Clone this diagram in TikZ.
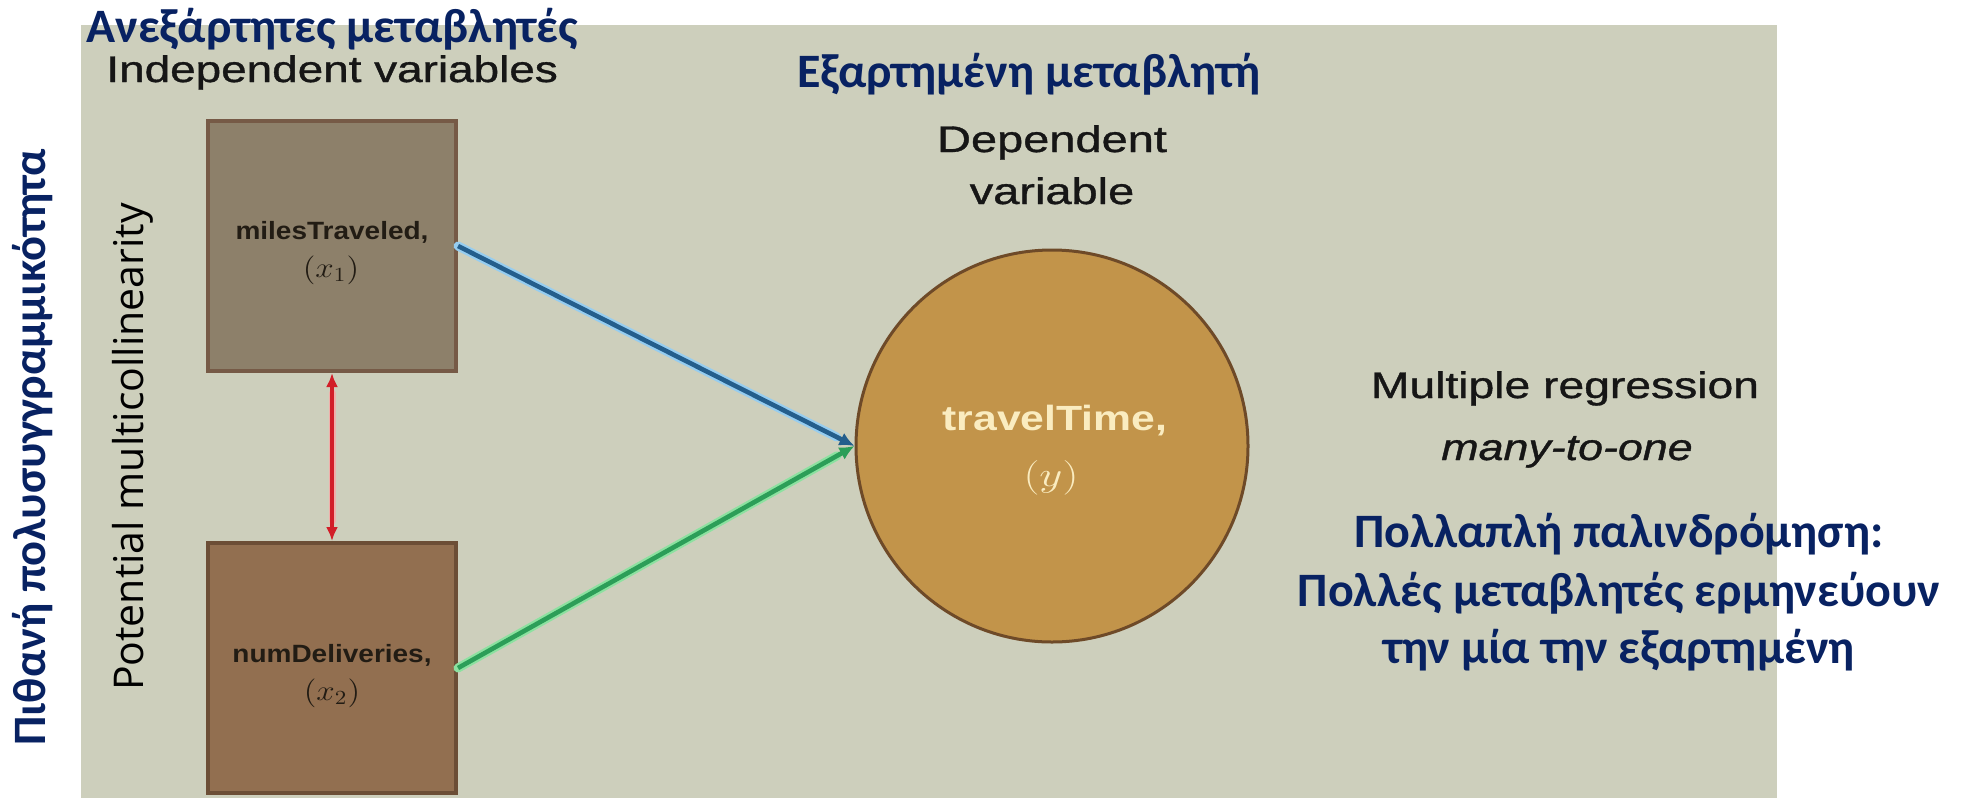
\documentclass[tikz,border=0pt]{standalone}
\usepackage[no-math]{fontspec}
\setmainfont{Liberation Sans}
\newfontfamily\grk{Carlito}
\newfontfamily\osans{Open Sans}
\newfontfamily\heavysans[FakeBold=0.9]{Liberation Sans}
\usetikzlibrary{arrows.meta}
\definecolor{bggray}{RGB}{205,207,188}
\definecolor{navy}{RGB}{8,34,98}
\definecolor{darktext}{RGB}{22,22,22}
\definecolor{boxtext}{RGB}{34,28,20}
\definecolor{boxAfill}{RGB}{141,128,106}
\definecolor{boxAline}{RGB}{118,90,70}
\definecolor{boxBfill}{RGB}{146,111,80}
\definecolor{boxBline}{RGB}{108,78,54}
\definecolor{circfill}{RGB}{194,148,74}
\definecolor{circline}{RGB}{110,74,40}
\definecolor{circtext}{RGB}{250,236,192}
\definecolor{bluecore}{RGB}{36,94,140}
\definecolor{blueglow}{RGB}{150,205,240}
\definecolor{greencore}{RGB}{44,158,88}
\definecolor{greenglow}{RGB}{140,225,160}
\definecolor{redcore}{RGB}{210,30,40}
\definecolor{redglow}{RGB}{240,175,170}
\begin{document}
\begin{tikzpicture}[x=0.5pt,y=-0.5pt,
  grktext/.style={font=\grk\bfseries\fontsize{24}{28}\selectfont, text=navy, inner sep=0pt},
  entext/.style={font=\heavysans\fontsize{18.5}{22}\selectfont, text=darktext, inner sep=0pt},
  varbox/.style={draw, line width=2pt, minimum width=124pt, minimum height=125pt, inner sep=0pt},
  boxlabel/.style={inner sep=0pt, anchor=base, text=boxtext, font=\bfseries\fontsize{12.5}{15}\selectfont},
  boxmath/.style={inner sep=0pt, anchor=base, text=boxtext, font=\fontsize{14}{16}\selectfont},
  depcirc/.style={circle, draw=circline, fill=circfill, line width=1.5pt, minimum size=196pt, inner sep=0pt},
  circlabel/.style={inner sep=0pt, anchor=base, text=circtext, font=\bfseries\fontsize{17.5}{20}\selectfont},
  circmath/.style={inner sep=0pt, anchor=base, text=circtext, font=\fontsize{18.5}{20}\selectfont},
  glowline/.style={line width=4.5pt, line cap=round},
  coreline/.style={line width=2.3pt},
  tip/.style={-{Latex[length=7.5pt,width=7pt]}}
]
\useasboundingbox (0,0) rectangle (1962,798);
\fill[bggray] (81,25) rectangle (1777,798);

% variable boxes
\node[varbox, draw=boxAline, fill=boxAfill] (b1) at (332,246) {};
\node[varbox, draw=boxBline, fill=boxBfill] (b2) at (332,668) {};
\node[boxlabel] (b1name) at (332,239) {\scalebox{1.12}[1]{milesTraveled,}};
\node[boxmath] (b1sym) at (331,277) {\scalebox{1.15}[1]{$(x_1)$}};
\node[boxlabel] (b2name) at (332,662) {\scalebox{1.12}[1]{numDeliveries,}};
\node[boxmath] (b2sym) at (332,700) {\scalebox{1.15}[1]{$(x_2)$}};

% dependent circle
\node[depcirc] (c) at (1052,446) {};
\node[circlabel] (cname) at (1055,430) {\scalebox{1.22}[1]{travelTime,}};
\node[circmath] (csym) at (1051,486) {\scalebox{1.3}[1]{$(y)$}};

% connectors
\draw[glowline, draw=blueglow, shorten >=10pt] (b1.east) -- (c.west);
\draw[glowline, draw=greenglow, shorten >=10pt] (b2.east) -- (c.west);
\draw[glowline, draw=redglow, line width=3.5pt, shorten >=10pt, shorten <=10pt] (b1.south) -- (b2.north);
\draw[coreline, draw=bluecore, tip] (b1.east) -- (c.west);
\draw[coreline, draw=greencore, tip] (b2.east) -- (c.west);
\draw[line width=2pt, draw=redcore, {Latex[length=7pt,width=6pt]}-{Latex[length=7pt,width=6pt]}] (b1.south) -- (b2.north);

% texts
\node[grktext, anchor=base west] (tindgr) at (86,42) {Ανεξάρτητες μεταβλητές};
\node[entext, anchor=base west] (tinden) at (106,82) {\scalebox{1.24}[1]{Independent variables}};
\node[grktext, anchor=base] (tdepgr) at (1029,87) {Εξαρτημένη μεταβλητή};
\node[entext, anchor=base] (tdepa) at (1052,152) {\scalebox{1.27}[1]{Dependent}};
\node[entext, anchor=base] (tdepb) at (1052,204) {\scalebox{1.27}[1]{variable}};
\node[entext, anchor=base] (tmr) at (1565,398) {\scalebox{1.25}[1]{Multiple regression}};
\node[entext, anchor=base] (tmto) at (1567,460) {\scalebox{1.21}[1]{\itshape many-to-one}};
\node[grktext, anchor=base] (tga) at (1619,547) {Πολλαπλή παλινδρόμηση:};
\node[grktext, anchor=base] (tgb) at (1619,606) {Πολλές μεταβλητές ερμηνεύουν};
\node[grktext, anchor=base] (tgc) at (1619,663) {την μία την εξαρτημένη};
\node[grktext, font=\grk\bfseries\fontsize{23.2}{27}\selectfont, rotate=90, anchor=base] (tvgr) at (45,447) {Πιθανή πολυσυγγραμμικότητα};
\node[inner sep=0pt, rotate=90, anchor=base, text=black, font=\osans\fontsize{20.5}{24}\selectfont] (tven) at (143,447) {Potential multicollinearity};
\end{tikzpicture}
\end{document}
